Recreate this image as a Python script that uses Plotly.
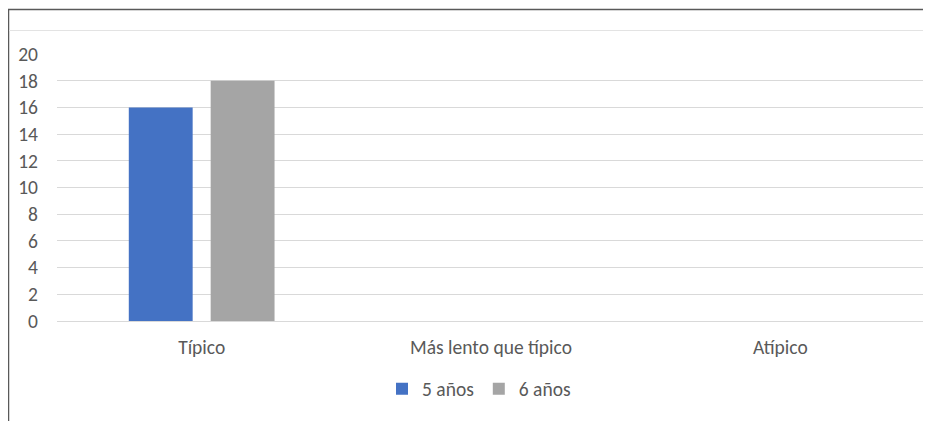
import plotly.graph_objects as go

categories = ["Típico", "Más lento que típico", "Atípico"]
series_names = ["5 años", "6 años"]
values_5 = [16, 0, 0]
values_6 = [18, 0, 0]
colors = ["#4472C4", "#A5A5A5"]
y_ticks = [0, 2, 4, 6, 8, 10, 12, 14, 16, 18, 20]

OFF = 8  # default page body margin
W, H = 931 - OFF, 421 - OFF
ml, mr, mt, mb = 57 - OFF, 6, 54 - OFF, 100
pw, ph = W - ml - mr, H - mt - mb

def px_x(p):
    return (p - OFF - ml) / pw

def px_y(p):
    return (H - mb - (p - OFF)) / ph

font = dict(family="Liberation Sans Narrow, Carlito, Calibri, Open Sans, sans-serif", size=19.5, color="#595959")

fig = go.Figure()
for name, vals, c in zip(series_names, [values_5, values_6], colors):
    fig.add_trace(go.Bar(x=categories, y=vals, name=name, marker=dict(color=c, line=dict(width=0))))

fig.update_layout(
    width=W, height=H,
    margin=dict(l=ml, r=mr, t=mt, b=mb),
    paper_bgcolor="white", plot_bgcolor="white",
    barmode="group", bargap=0.434, bargroupgap=0.22,
    font=font,
    showlegend=True,
    legend=dict(orientation="h", x=px_x(479), xanchor="center", y=px_y(389), yanchor="middle",
                font=font, itemwidth=30, tracegroupgap=0),
    xaxis=dict(showgrid=False, showline=False, ticks="", tickfont=font, zeroline=False,
               ticklabelstandoff=12),
    yaxis=dict(range=[0, 20], tickvals=y_ticks, showgrid=True, gridcolor="#D9D9D9", gridwidth=1,
               zeroline=True, zerolinecolor="#D9D9D9", zerolinewidth=1, showline=False,
               ticks="", tickfont=font, ticklabelstandoff=18),
    shapes=[
        dict(type="line", xref="paper", yref="paper", x0=px_x(8.5), x1=px_x(8.5), y0=px_y(9), y1=px_y(440),
             line=dict(color="#595959", width=1.5)),
        dict(type="line", xref="paper", yref="paper", x0=px_x(8), x1=px_x(940), y0=px_y(9.5), y1=px_y(9.5),
             line=dict(color="#595959", width=1.5)),
        dict(type="line", xref="paper", yref="paper", x0=px_x(9), x1=px_x(940), y0=px_y(30.5), y1=px_y(30.5),
             line=dict(color="#E3E3E3", width=1)),
    ],
)

fig.write_html("out.html")
